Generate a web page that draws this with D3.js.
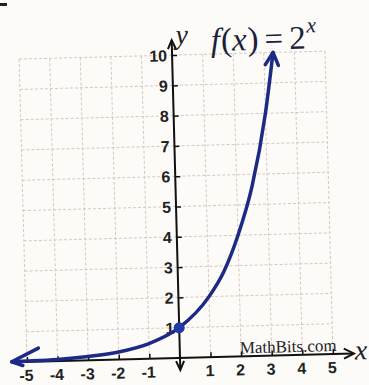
<!DOCTYPE html>
<html>
<head>
<meta charset="utf-8">
<script src="https://cdn.jsdelivr.net/npm/d3@7"></script>
<style>
  body { margin: 0; background: #fcfbf8; }
  svg { display: block; }
</style>
</head>
<body>
<div id="chart"></div>
<script>
// tick labels
let xTicks = [-5, -4, -3, -2, -1, 1, 2, 3, 4, 5];
let yTicks = [1, 2, 3, 4, 5, 6, 7, 8, 9, 10];

let curveX = [-5.5, -5, -4, -3, -2, -1, 0, 1, 1.5, 2, 2.5, 3, 3.3];
let curveY = [0.02, 0.03, 0.06, 0.13, 0.25, 0.5, 1, 2, 2.8, 4, 5.6, 8, 10];

// highlighted point
let dotX = [0];
let dotY = [1];

function renderGraph() {
    let width = 369;
    let height = 385;

    let x = d3.scaleLinear()
        .domain([-5, 5])
        .range([27, 333]);

    let y = d3.scaleLinear()
        .domain([0, 10])
        .range([358, 55]);

    let svg = d3.select('#chart')
        .append('svg')
        .attr('width', width)
        .attr('height', height);

    let curveColor = '#1c2a86';

    // little mark top-left
    svg.append('rect')
        .attr('x', 0).attr('y', 3)
        .attr('width', 7).attr('height', 3)
        .attr('fill', '#222');

    // the photo is slightly tilted
    let g0 = svg.append('g')
        .attr('transform', `rotate(-1.5, ${x(0)}, ${y(0)})`);

    // grid
    let grid = g0.append('g')
        .attr('stroke', '#dcc4c4')
        .attr('stroke-width', 1)
        .attr('stroke-dasharray', '3,2');

    grid.selectAll('.vg')
        .data(d3.range(-5, 6))
        .enter()
        .append('line')
        .attr('x1', d => x(d)).attr('x2', d => x(d))
        .attr('y1', y(10)).attr('y2', y(0));

    grid.selectAll('.hg')
        .data(yTicks)
        .enter()
        .append('line')
        .attr('x1', x(-5)).attr('x2', x(5))
        .attr('y1', d => y(d)).attr('y2', d => y(d));

    // x axis
    let xAxis = g => g
        .attr('transform', `translate(0,${y(0)})`)
        .call(d3.axisTop(x).tickValues(xTicks).tickSize(5).tickFormat(''))
        .call(g => g.select('.domain').remove())
        .call(g => g.selectAll('line').attr('stroke', '#111').attr('stroke-width', 1.5));

    let yAxis = g => g
        .attr('transform', `translate(${x(0)},0)`)
        .call(d3.axisRight(y).tickValues(yTicks).tickSize(5).tickFormat(''))
        .call(g => g.select('.domain').remove())
        .call(g => g.selectAll('line').attr('stroke', '#111').attr('stroke-width', 1.5));

    g0.append('g').call(xAxis);
    g0.append('g').call(yAxis);

    // axis lines
    g0.append('line')
        .attr('x1', 13).attr('x2', 353)
        .attr('y1', y(0)).attr('y2', y(0))
        .attr('stroke', '#111').attr('stroke-width', 2);

    g0.append('line')
        .attr('x1', x(0)).attr('x2', x(0))
        .attr('y1', 40).attr('y2', 369)
        .attr('stroke', '#111').attr('stroke-width', 2);

    // axis arrow heads
    let heads = [
        [[344, y(0) - 5], [354, y(0)], [344, y(0) + 5]],
        [[x(0) - 4, 49], [x(0), 40], [x(0) + 4, 49]],
        [[x(0) - 4, 361], [x(0), 370], [x(0) + 4, 361]]
    ];
    g0.selectAll('.ah')
        .data(heads)
        .enter()
        .append('path')
        .attr('d', d => d3.line()(d))
        .attr('fill', 'none')
        .attr('stroke', '#111')
        .attr('stroke-width', 2);

    let tickFont = "'Liberation Sans Narrow', 'Arial Narrow', 'Liberation Sans', Arial, sans-serif";

    // tick labels
    g0.selectAll('.xl')
        .data(xTicks)
        .enter()
        .append('text')
        .attr('x', d => x(d) - 1)
        .attr('y', 377)
        .attr('text-anchor', 'middle')
        .style('font-family', tickFont)
        .style('font-weight', 'bold')
        .style('font-size', '16px')
        .attr('fill', '#222')
        .text(d => d);

    g0.selectAll('.yl')
        .data(yTicks)
        .enter()
        .append('text')
        .attr('x', x(0) - 5)
        .attr('y', d => y(d) + 6)
        .attr('text-anchor', 'end')
        .style('font-family', tickFont)
        .style('font-weight', 'bold')
        .style('font-size', '16px')
        .attr('fill', '#222')
        .text(d => d);

    // curve
    let pts = curveX.map((d, i) => [d, curveY[i]]);
    let line = d3.line()
        .x(d => x(d[0]))
        .y(d => y(d[1]))
        .curve(d3.curveMonotoneX);

    g0.append('path')
        .datum(pts)
        .attr('d', line)
        .attr('fill', 'none')
        .attr('stroke', curveColor)
        .attr('stroke-width', 3.5)
        .attr('stroke-linecap', 'round');

    // curve arrow heads
    let first = pts[0];
    let last = pts[pts.length - 1];
    let lx = x(first[0]), ly = y(first[1]);
    let tx = x(last[0]), ty = y(last[1]);
    let curveHeads = [
        [[lx + 27, ly - 13], [lx, ly], [lx + 11, ly + 4]],
        [[tx - 8, ty + 12], [tx, ty], [tx + 5, ty + 13]]
    ];
    g0.selectAll('.ch')
        .data(curveHeads)
        .enter()
        .append('path')
        .attr('d', d => d3.line()(d))
        .attr('fill', 'none')
        .attr('stroke', curveColor)
        .attr('stroke-width', 3.5)
        .attr('stroke-linecap', 'round')
        .attr('stroke-linejoin', 'round');

    g0.selectAll('.dot')
        .data(dotX)
        .enter()
        .append('circle')
        .attr('cx', d => x(d))
        .attr('cy', (d, i) => y(dotY[i]))
        .attr('r', 5.5)
        .attr('fill', '#1f3aa0');

    // labels
    let serif = "'Liberation Serif', 'Times New Roman', serif";

    g0.append('text')
        .attr('x', 184)
        .attr('y', 44)
        .style('font-family', serif)
        .style('font-style', 'italic')
        .style('font-size', '28px')
        .attr('fill', '#222')
        .text('y');

    g0.append('text')
        .attr('x', 355)
        .attr('y', 364)
        .style('font-family', serif)
        .style('font-style', 'italic')
        .style('font-size', '28px')
        .attr('fill', '#222')
        .text('x');

    let title = g0.append('text')
        .attr('x', 219)
        .attr('y', 52)
        .style('font-family', serif)
        .style('font-size', '33px')
        .attr('fill', '#1a1f3a');
    title.append('tspan').style('font-style', 'italic').text('f');
    title.append('tspan').attr('dx', 1).text('(');
    title.append('tspan').style('font-style', 'italic').text('x');
    title.append('tspan').attr('dx', 1).text(')');
    title.append('tspan').attr('dx', 6).text('=');
    title.append('tspan').attr('dx', 6).text('2');
    title.append('tspan')
        .attr('dy', -16)
        .attr('dx', 1)
        .style('font-style', 'italic')
        .style('font-size', '22px')
        .text('x');

    g0.append('text')
        .attr('x', 240)
        .attr('y', 355)
        .style('font-family', serif)
        .style('font-size', '17px')
        .attr('fill', '#222')
        .text('MathBits.com');
}

renderGraph();
</script>
</body>
</html>
